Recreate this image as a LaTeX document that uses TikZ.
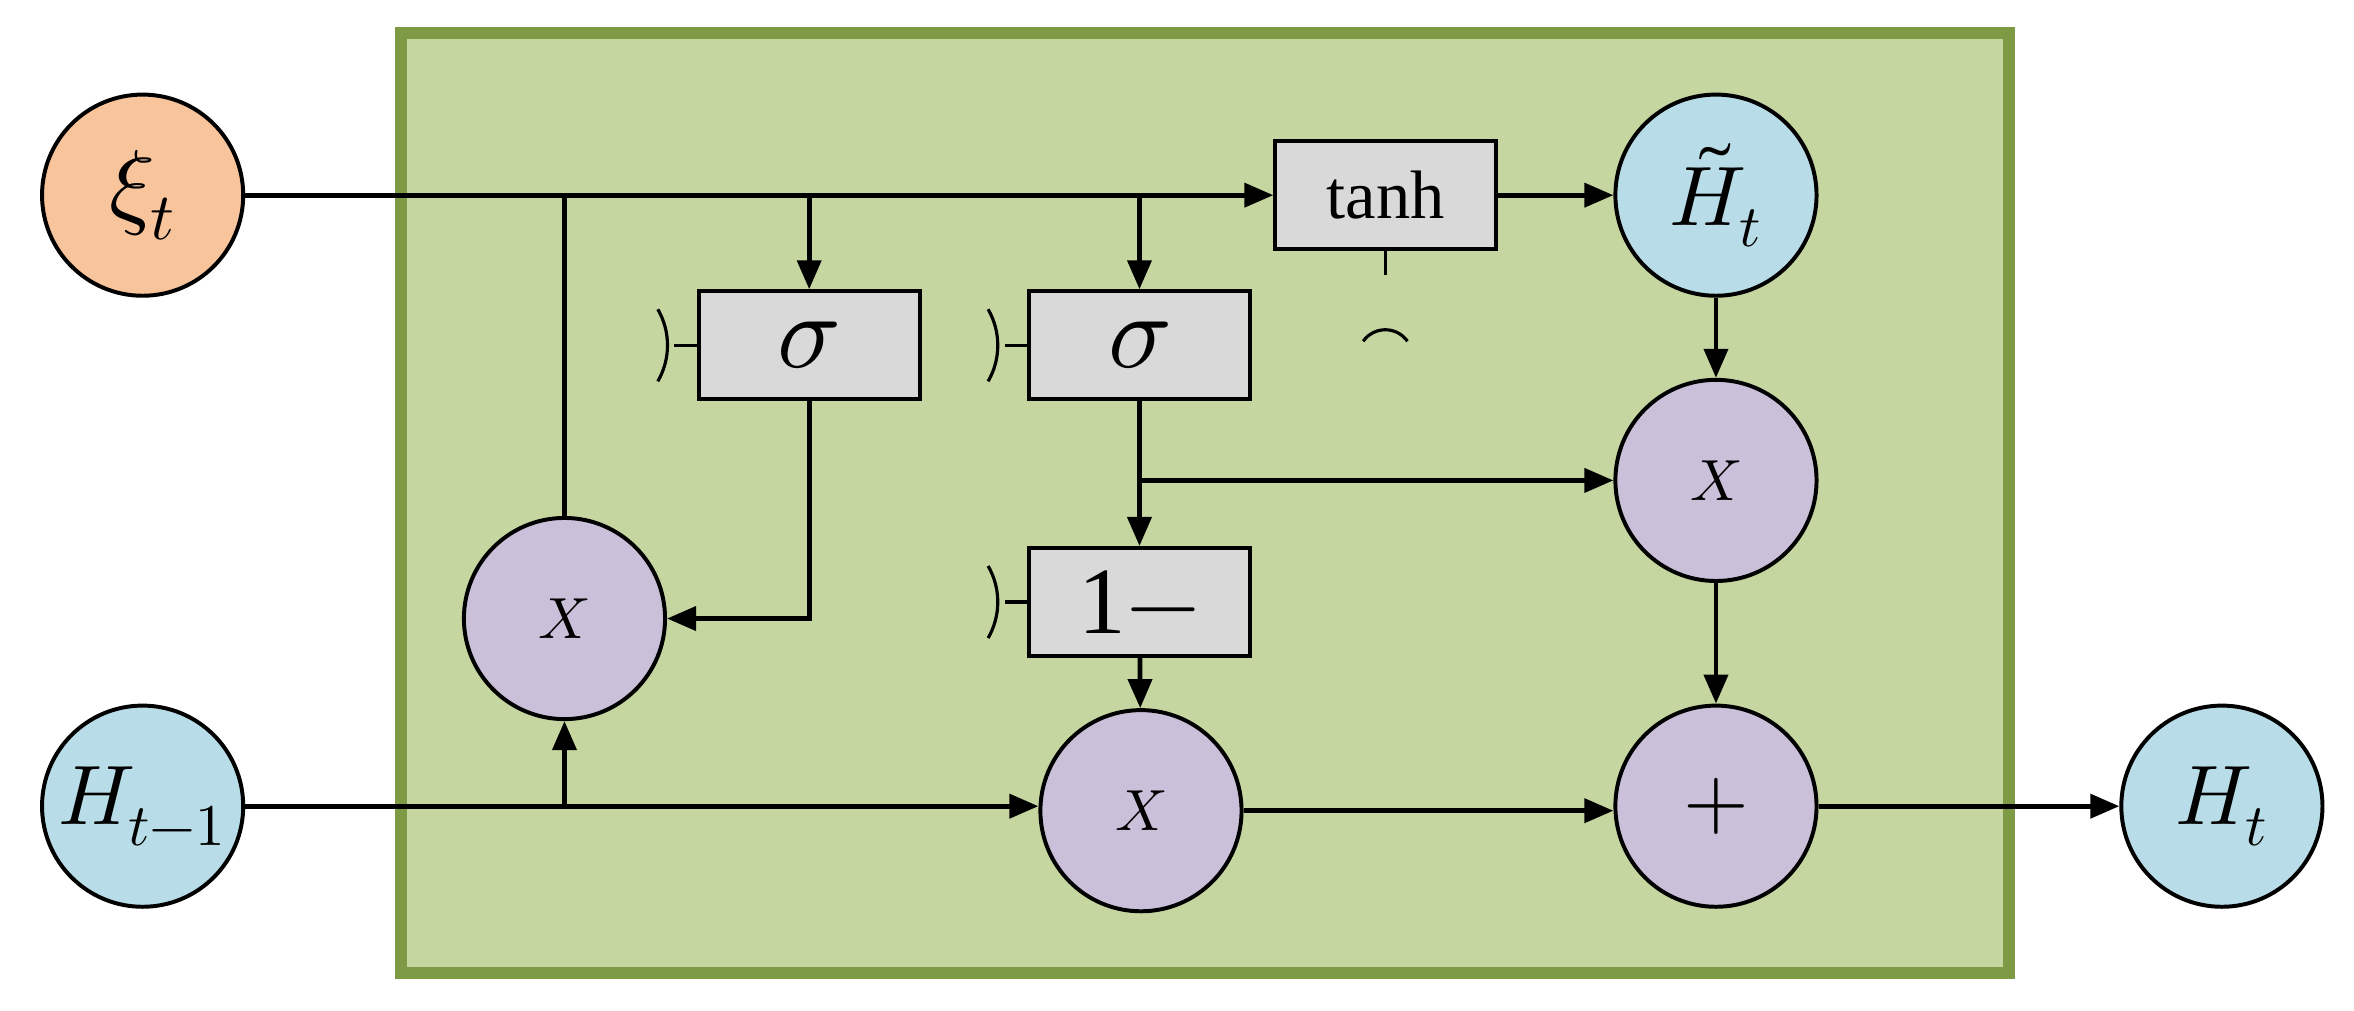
\documentclass[tikz,border=0pt]{standalone}
\usepackage{fontspec}
\setmainfont{Liberation Serif}
\usepackage{unicode-math}
\setmathfont{Latin Modern Math}
\usetikzlibrary{arrows.meta}
\begin{document}
\begin{tikzpicture}[x=0.02cm,y=-0.02cm,
  circ/.style={circle,draw,line width=1.5pt,minimum size=134*0.02cm,inner sep=0pt},
  blu/.style={circ,fill={rgb,255:red,184;green,221;blue,232}},
  pur/.style={circ,fill={rgb,255:red,203;green,192;blue,218}},
  box/.style={draw,line width=1.5pt,fill={rgb,255:red,217;green,217;blue,217},minimum width=147*0.02cm,minimum height=72*0.02cm,inner sep=0pt},
  ar/.style={line width=1.8pt,-{Triangle[length=11pt,width=9pt]}},
  ln/.style={line width=1.8pt}]
\useasboundingbox (0,0) rectangle (1568,673);
\draw[line width=4.5pt,draw={rgb,255:red,126;green,154;blue,69},fill={rgb,255:red,197;green,214;blue,160}] (267,22) rectangle (1338,648);
\node[circ,fill={rgb,255:red,248;green,196;blue,156}] (xi) at (95,130) {\fontsize{36}{40}\selectfont $\xi_t$};
\node[blu] (hp) at (95,537) {\fontsize{32}{36}\selectfont $H_{t-1}$};
\node[blu] (ht) at (1480,537) {\fontsize{32}{36}\selectfont $H_t$};
\node[blu] (hh) at (1143,130) {\fontsize{32}{36}\selectfont $\tilde{H}_t$};
\node[pur] (xr) at (1143,320) {\fontsize{22}{26}\selectfont $X$};
\node[pur] (pl) at (1143,537) {\fontsize{32}{36}\selectfont $+$};
\node[pur] (xm) at (760,540) {\fontsize{22}{26}\selectfont $X$};
\node[pur] (xl) at (376,412) {\fontsize{22}{26}\selectfont $X$};
\node[box] (th) at (923,130) {\fontsize{26}{30}\selectfont tanh};
\node[box] (s1) at (539,230) {\fontsize{40}{44}\selectfont $\sigma$};
\node[box] (s2) at (759,230) {\fontsize{40}{44}\selectfont $\sigma$};
\node[box] (om) at (759,401) {\fontsize{36}{40}\selectfont 1$-$};
% small marks
\foreach \n in {s1,s2,om}{
  \draw[line width=1.2pt] (\n.west) -- ++(-15,0);
  \draw[line width=1.2pt] ([xshift=-26*0.02cm,yshift=-24*0.02cm]\n.west) arc[start angle=-30,end angle=30,radius=48*0.02cm];
}
\draw[line width=1.2pt] (th.south) -- ++(0,16);
\draw[line width=1.2pt] ([xshift=-15*0.02cm,yshift=-60*0.02cm]th.south) arc[start angle=145,end angle=35,radius=18*0.02cm];
% connections
\coordinate (a1) at (376,130);
\coordinate (a2) at (539,130);
\coordinate (a3) at (759,130);
\coordinate (b1) at (376,537);
\coordinate (c1) at (759,320);
\draw[ar] (xi) -- (th);
\draw[ln] (xl) -- (a1);
\draw[ar] (a2) -- (s1);
\draw[ar] (a3) -- (s2);
\draw[ar] (th) -- (hh);
\draw[ar] (hh) -- (xr);
\draw[ar] (s2) -- (om);
\draw[ar] (c1) -- (xr);
\draw[ar] (s1.south) |- (xl);
\draw[ar] (om) -- (xm);
\draw[ar] (hp) -- (hp -| xm.west);
\draw[ar] (b1) -- (xl);
\draw[ar] (xm) -- (xm -| pl.west);
\draw[ar] (xr) -- (pl);
\draw[ar] (pl.east |- hp) -- (ht);
\end{tikzpicture}
\end{document}
